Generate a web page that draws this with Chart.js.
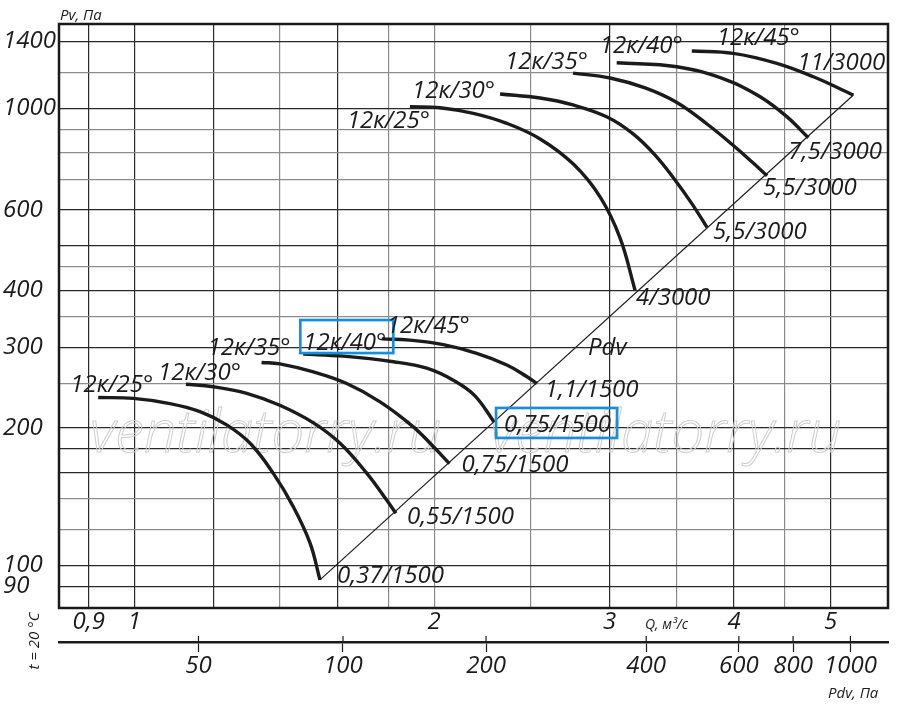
<!DOCTYPE html>
<html>
<head>
<meta charset="utf-8">
<script src="https://cdn.jsdelivr.net/npm/chart.js@4.4.0/dist/chart.umd.min.js"></script>
<style>
  html, body { margin: 0; padding: 0; background: #fff; }
  #chart { display: block; }
</style>
</head>
<body>
<canvas id="chart" width="900" height="709" style="width:900px;height:709px"></canvas>
<script>
// ---------- values ----------
// axes
const qTicks = [0.9, 1, 1.2, 1.4, 1.6, 1.8, 2, 2.5, 3, 3.5, 4, 4.5, 5];
const qLabelled = [0.9, 1, 2, 3, 4, 5];
const qDark = [0.9, 1, 1.2, 1.6, 3, 4, 5];
const pvTicks = [90, 100, 120, 140, 160, 180, 200, 250, 300, 350, 400, 450, 500, 600, 700, 800, 900, 1000, 1200, 1400];
const pvLabelled = [90, 100, 200, 300, 400, 600, 1000, 1400];
const pvDark = [90, 100, 160, 180, 200, 300, 400, 500, 600, 1000, 1400];
const pdvTickLabels = [50, 100, 200, 400, 600, 800, 1000];
const pdvTickAtQ = [1.16, 1.62, 2.255, 3.265, 4.045, 4.585, 5.235]; // where each Pdv tick sits on the Q scale

// 1500 rpm curves (Q, m3/s -> Pv, Pa)
const lo25Q  = [0.920, 0.998, 1.086, 1.164, 1.238, 1.307, 1.379, 1.444, 1.501, 1.536];
const lo25Pv = [233, 232, 226, 217, 203, 185, 159, 134.5, 112, 93];
const lo30Q  = [1.127, 1.200, 1.297, 1.400, 1.513, 1.609, 1.712, 1.792, 1.831];
const lo30Pv = [249, 246, 238, 224, 205, 185, 159, 139, 130];
const lo35Q  = [1.342, 1.400, 1.513, 1.634, 1.765, 1.906, 1.996, 2.072];
const lo35Pv = [278, 276, 265, 250, 228, 201, 182, 167];
const lo40Q  = [1.478, 1.621, 1.820, 1.966, 2.099, 2.198, 2.297];
const lo40Pv = [290, 287, 279, 270, 253, 235, 206];
const lo45Q  = [1.772, 1.891, 2.043, 2.207, 2.366, 2.477, 2.536];
const lo45Pv = [313, 311, 304, 291, 274.5, 259, 250];

// 3000 rpm curves
const hi25Q  = [1.891, 2.027, 2.190, 2.366, 2.555, 2.759, 2.935, 3.074, 3.182];
const hi25Pv = [1008, 1003, 975, 927, 857, 755, 640, 520, 400];
const hi30Q  = [2.329, 2.555, 2.757, 2.983, 3.168, 3.333, 3.490, 3.630, 3.758];
const hi30Pv = [1075, 1053, 1017, 957, 879, 790, 697, 618, 549];
const hi35Q  = [2.757, 3.004, 3.257, 3.498, 3.758, 4.010, 4.171, 4.318];
const hi35Pv = [1194, 1165, 1108, 1032, 924, 823, 763, 712];
const hi40Q  = [3.050, 3.505, 3.934, 4.249, 4.519, 4.750];
const hi40Pv = [1258, 1233, 1153, 1060, 959, 862];
const hi45Q  = [3.628, 3.994, 4.416, 4.806, 5.271];
const hi45Pv = [1335, 1319, 1254, 1172, 1069];

// Pdv line
const pdvLineQ  = [1.536, 5.271];
const pdvLinePv = [93, 1069];

const angleNames = ['12к/25°', '12к/30°', '12к/35°', '12к/40°', '12к/45°'];
const lowPower  = ['0,37/1500', '0,55/1500', '0,75/1500', '0,75/1500', '1,1/1500'];
const highPower = ['4/3000', '5,5/3000', '5,5/3000', '7,5/3000', '11/3000'];

// ---------- label placement (pixels from curve start / end) ----------
const curves = [
  { q: lo25Q, pv: lo25Pv, name: angleNames[0], power: lowPower[0],  nameOff: [-28, -5], powOff: [17, 3] },
  { q: lo30Q, pv: lo30Pv, name: angleNames[1], power: lowPower[1],  nameOff: [-28, -4], powOff: [11, 11] },
  { q: lo35Q, pv: lo35Pv, name: angleNames[2], power: lowPower[2],  nameOff: [-54, -7], powOff: [12, 8] },
  { q: lo40Q, pv: lo40Pv, name: angleNames[3], power: lowPower[3],  nameOff: [0, -4],   powOff: [10, 10], boxed: true },
  { q: lo45Q, pv: lo45Pv, name: angleNames[4], power: lowPower[4],  nameOff: [5, -6],   powOff: [8, 13] },
  { q: hi25Q, pv: hi25Pv, name: angleNames[0], power: highPower[0], nameOff: [-63, 21], powOff: [1, 15] },
  { q: hi30Q, pv: hi30Pv, name: angleNames[1], power: highPower[1], nameOff: [-88, 4],  powOff: [6, 12] },
  { q: hi35Q, pv: hi35Pv, name: angleNames[2], power: highPower[2], nameOff: [-68, -4], powOff: [-4, 19] },
  { q: hi40Q, pv: hi40Pv, name: angleNames[3], power: highPower[3], nameOff: [-17, -10], powOff: [-20, 21] },
  { q: hi45Q, pv: hi45Pv, name: angleNames[4], power: highPower[4], nameOff: [25, -6],  powOff: [-56, -25] }
];

const FAMILY = '"Open Sans", "DejaVu Sans", sans-serif';
const INK = '#1b1b1b';
const BLUE = '#1a8fd9';

const toPoints = (qs, pvs) => qs.map((q, i) => ({ x: q, y: pvs[i] }));

const datasets = curves.map(c => ({
  data: toPoints(c.q, c.pv),
  borderColor: INK,
  borderWidth: 3.4,
  pointRadius: 0,
  tension: 0.4,
  fill: false
}));
datasets.push({
  data: toPoints(pdvLineQ, pdvLinePv),
  borderColor: INK,
  borderWidth: 1.2,
  pointRadius: 0,
  tension: 0,
  fill: false
});

const labelFont = 'italic 24px ' + FAMILY;

const decor = {
  id: 'decor',
  beforeDatasetsDraw(chart) {
    const ctx = chart.ctx;
    // watermark
    ctx.save();
    ctx.font = 'italic 300 58px ' + FAMILY;
    ctx.strokeStyle = '#cdcdcd';
    ctx.lineWidth = 1;
    ctx.strokeText('ventilatorry.ru', 90, 452);
    ctx.strokeText('ventilatorry.ru', 490, 452);
    ctx.restore();
  },
  afterDraw(chart) {
    const { ctx, chartArea: a, scales } = chart;
    const x = scales.x, y = scales.y, pdv = scales.pdv;
    ctx.save();

    // plot frame
    ctx.strokeStyle = INK;
    ctx.lineWidth = 2.5;
    ctx.strokeRect(a.left, a.top, a.right - a.left, a.bottom - a.top);

    // Pdv ticks cross the axis line
    ctx.lineWidth = 1.2;
    pdvTickAtQ.forEach(q => {
      const px = pdv.getPixelForValue(q);
      ctx.beginPath();
      ctx.moveTo(px, pdv.top - 6);
      ctx.lineTo(px, pdv.top);
      ctx.stroke();
    });

    // curve labels
    ctx.fillStyle = INK;
    ctx.font = labelFont;
    ctx.textAlign = 'left';
    ctx.textBaseline = 'alphabetic';
    curves.forEach(c => {
      const n = c.q.length - 1;
      const sx = x.getPixelForValue(c.q[0]), sy = y.getPixelForValue(c.pv[0]);
      const ex = x.getPixelForValue(c.q[n]), ey = y.getPixelForValue(c.pv[n]);
      const nx = sx + c.nameOff[0], ny = sy + c.nameOff[1];
      const px = ex + c.powOff[0], py = ey + c.powOff[1];
      ctx.fillText(c.name, nx, ny);
      ctx.fillText(c.power, px, py);
      if (c.boxed) {
        ctx.save();
        ctx.strokeStyle = BLUE;
        ctx.lineWidth = 2.7;
        ctx.strokeRect(nx - 3, ny - 30, 93, 33);
        ctx.strokeRect(px - 8, py - 24, 121, 30);
        ctx.restore();
      }
    });

    // Pdv line label
    ctx.fillText('Pdv', 588, 355);

    // axis names
    ctx.font = 'italic 15px ' + FAMILY;
    ctx.fillText('Pv, Па', 60, 20);
    ctx.fillText('Pdv, Па', 828, 698);
    ctx.font = 'italic 14px ' + FAMILY;
    ctx.fillText('Q, м³/с', 645, 629);

    ctx.font = 'italic 15px ' + FAMILY;
    ctx.translate(35, 641);
    ctx.rotate(-Math.PI / 2);
    ctx.textAlign = 'center';
    ctx.textBaseline = 'middle';
    ctx.fillText('t = 20 °C', 0, 0);

    ctx.restore();
  }
};

const tickFont = { family: FAMILY, size: 24, style: 'italic' };
const fmt = v => String(v).replace('.', ',');

new Chart(document.getElementById('chart'), {
  type: 'line',
  data: { datasets },
  options: {
    responsive: false,
    animation: false,
    devicePixelRatio: 1,
    layout: { padding: { left: 3, right: 12, top: 24, bottom: 0 } },
    plugins: { legend: { display: false }, tooltip: { enabled: false } },
    scales: {
      x: {
        type: 'logarithmic',
        position: 'bottom',
        weight: 0,
        min: 0.8403,
        max: 5.71,
        afterBuildTicks: s => { s.ticks = qTicks.map(v => ({ value: v })); },
        afterFit: s => { s.height = 34; },
        grid: {
          drawTicks: false,
          lineWidth: 1.2,
          color: c => (c.tick && qDark.includes(c.tick.value)) ? '#2a2a2a' : '#8c8c8c'
        },
        border: { display: false },
        ticks: {
          autoSkip: false, maxRotation: 0, minRotation: 0, padding: 0,
          color: INK, font: tickFont,
          callback: v => qLabelled.includes(v) ? fmt(v) : ''
        }
      },
      pdv: {
        type: 'logarithmic',
        axis: 'x',
        position: 'bottom',
        weight: 1,
        min: 0.8403,
        max: 5.71,
        afterBuildTicks: s => { s.ticks = pdvTickAtQ.map(v => ({ value: v })); },
        afterFit: s => { s.height = 67; },
        grid: { drawOnChartArea: false, drawTicks: true, tickLength: 10, tickWidth: 1.2, color: INK },
        border: { display: true, width: 2.5, color: INK },
        ticks: {
          autoSkip: false, maxRotation: 0, minRotation: 0, padding: 0,
          color: INK, font: tickFont,
          callback: (v, i) => String(pdvTickLabels[i])
        }
      },
      y: {
        type: 'logarithmic',
        position: 'left',
        min: 80.7,
        max: 1529,
        afterBuildTicks: s => { s.ticks = pvTicks.map(v => ({ value: v })); },
        afterFit: s => { s.width = 56; },
        grid: {
          drawTicks: false,
          lineWidth: 1.2,
          color: c => (c.tick && pvDark.includes(c.tick.value)) ? '#2a2a2a' : '#8c8c8c'
        },
        border: { display: false },
        ticks: {
          autoSkip: false, padding: 0, crossAlign: 'far',
          color: INK, font: tickFont,
          callback: v => pvLabelled.includes(v) ? String(v) : ''
        }
      }
    }
  },
  plugins: [decor]
});
</script>
</body>
</html>
